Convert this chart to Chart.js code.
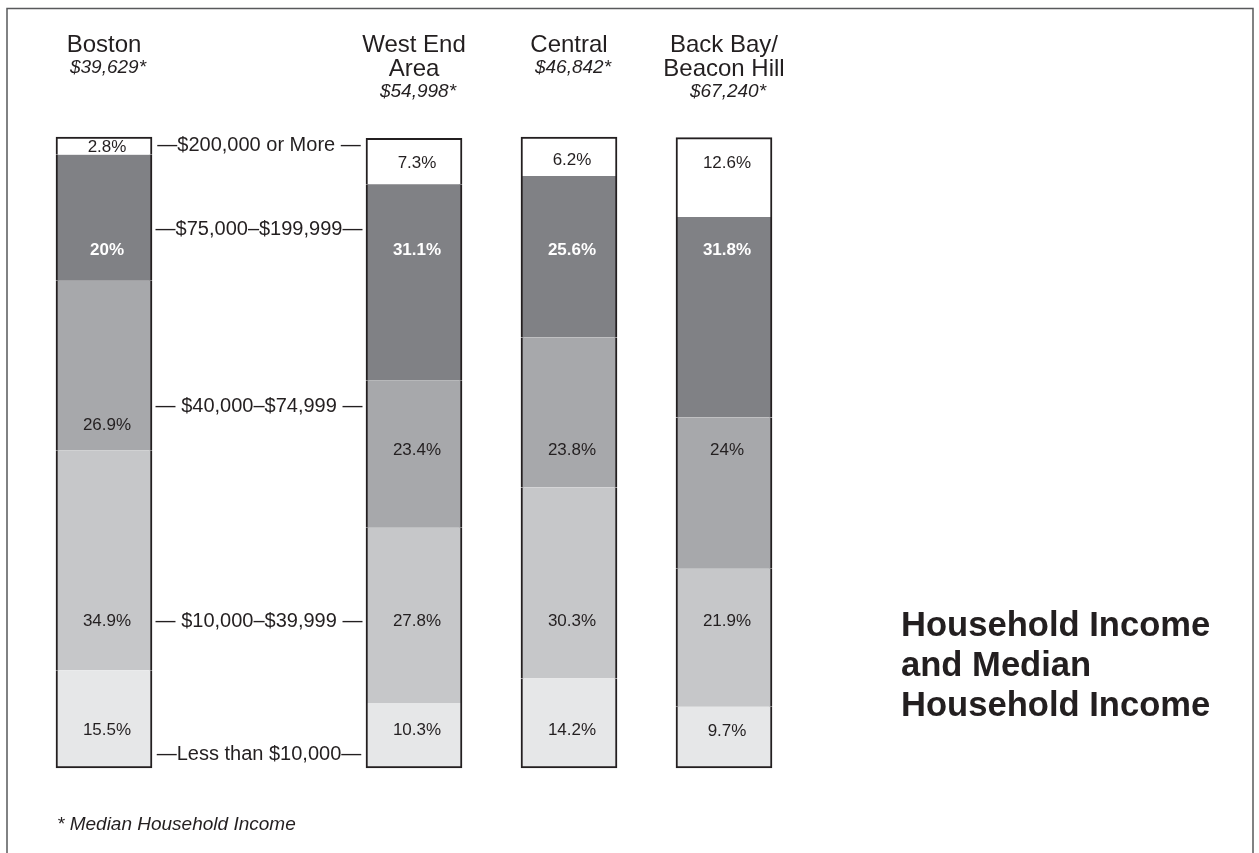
<!DOCTYPE html>
<html>
<head>
<meta charset="utf-8">
<script src="https://cdn.jsdelivr.net/npm/chart.js@4"></script>
<style>
  html, body { margin: 0; padding: 0; background: #fff; }
</style>
</head>
<body>
<canvas id="income-chart" width="1259" height="853"></canvas>
<script>
// areas, left to right
const areas = [['Boston'], ['West End', 'Area'], ['Central'], ['Back Bay/', 'Beacon Hill']];
const medianIncome = ['$39,629*', '$54,998*', '$46,842*', '$67,240*'];

// income bands, from the bottom of each bar to the top
const bands = ['Less than $10,000', '$10,000–$39,999', '$40,000–$74,999', '$75,000–$199,999', '$200,000 or More'];
const under10k = [15.5, 10.3, 14.2, 9.7];
const from10kTo40k = [34.9, 27.8, 30.3, 21.9];
const from40kTo75k = [26.9, 23.4, 23.8, 24];
const from75kTo200k = [20, 31.1, 25.6, 31.8];
const over200k = [2.8, 7.3, 6.2, 12.6];

const series = [under10k, from10kTo40k, from40kTo75k, from75kTo200k, over200k];
const bandColors = ['#e6e7e8', '#c6c7c9', '#a7a8ab', '#808185', '#ffffff'];

// key text in the column between Boston and the neighbourhoods
const keyText = ['—Less than $10,000—', '— $10,000–$39,999 —', '— $40,000–$74,999 —', '—$75,000–$199,999—', '—$200,000 or More —'];
const keyAt = [2.1, 23.3, 57.4, 85.5, 98.7];   // in percent-axis units
// preferred height of the value labels for each band, kept inside the segment
const labelRow = [6.0, 23.3, 50.4, 82.2, 96.0];

const FONT = '"Liberation Sans", Arial, Helvetica, sans-serif';
const INK = '#231f20';

// slot 1 is the key column, it has no bar
const slots = ['Boston', 'key', 'West End', 'Central', 'Back Bay'];
const withKeyGap = arr => [arr[0], null, ...arr.slice(1)];
const slotOf = i => (i === 0 ? 0 : i + 1);

const annotations = {
  id: 'annotations',
  afterDatasetsDraw(chart) {
    const ctx = chart.ctx;
    const x = chart.scales.x, y = chart.scales.y;
    ctx.save();
    ctx.textAlign = 'center';
    ctx.textBaseline = 'middle';

    // percentages inside the bars
    areas.forEach((_, a) => {
      let lo = 0;
      series.forEach((vals, b) => {
        const v = vals[a];
        const hi = lo + v;
        const m = Math.min(4, v * 0.4);
        const pos = Math.min(Math.max(labelRow[b], lo + m), hi - m);
        ctx.font = (b === 3 ? 'bold ' : '') + '17px ' + FONT;
        ctx.fillStyle = b === 3 ? '#ffffff' : INK;
        ctx.fillText(v + '%', x.getPixelForValue(slotOf(a)) + 3, y.getPixelForValue(pos));
        lo = hi;
      });
    });

    // band key
    ctx.font = '20px ' + FONT;
    ctx.fillStyle = INK;
    keyText.forEach((t, b) => {
      ctx.fillText(t, x.getPixelForValue(1), y.getPixelForValue(keyAt[b]));
    });

    // area names and medians
    ctx.textBaseline = 'alphabetic';
    areas.forEach((lines, a) => {
      const cx = x.getPixelForValue(slotOf(a));
      ctx.font = '24px ' + FONT;
      lines.forEach((ln, k) => ctx.fillText(ln, cx, 52 + k * 24));
      ctx.font = 'italic 19px ' + FONT;
      ctx.fillText(medianIncome[a], cx + 4, 52 + (lines.length - 1) * 24 + 21);
    });

    // title
    ctx.textAlign = 'left';
    ctx.font = 'bold 34.6px ' + FONT;
    ['Household Income', 'and Median', 'Household Income'].forEach((ln, k) => {
      ctx.fillText(ln, 901, 636 + k * 40);
    });

    // footnote
    ctx.font = 'italic 19px ' + FONT;
    ctx.fillText('* Median Household Income', 57, 830);

    // frame, open at the bottom
    ctx.strokeStyle = '#58595b';
    ctx.lineWidth = 1.5;
    ctx.beginPath();
    ctx.moveTo(7, 853);
    ctx.lineTo(7, 8.5);
    ctx.lineTo(1253, 8.5);
    ctx.lineTo(1253, 853);
    ctx.stroke();
    ctx.restore();
  }
};

const config = {
  type: 'bar',
  data: {
    labels: slots,
    datasets: series.map((vals, b) => ({
      label: bands[b],
      data: withKeyGap(vals),
      backgroundColor: bandColors[b],
      borderColor: INK,
      borderWidth: { left: 2, right: 2, top: b === series.length - 1 ? 2 : 0, bottom: b === 0 ? 2 : 0 },
      borderSkipped: false,
      barThickness: 96,
      clip: false
    }))
  },
  options: {
    responsive: false,
    animation: false,
    layout: { padding: { left: 26.5, right: 457.5, top: 137, bottom: 85 } },
    plugins: {
      legend: { display: false },
      tooltip: { enabled: false }
    },
    scales: {
      x: { display: false, stacked: true, offset: true },
      y: { display: false, stacked: true, min: 0, max: 100.1 }
    }
  },
  plugins: [annotations]
};

const incomeChart = new Chart(document.getElementById('income-chart'), config);
</script>
</body>
</html>
